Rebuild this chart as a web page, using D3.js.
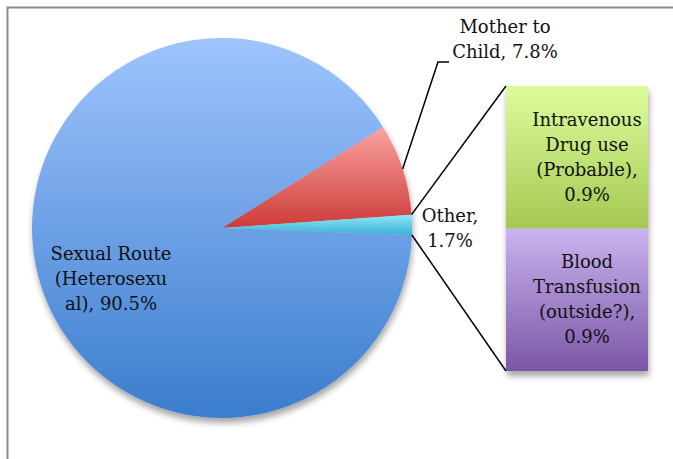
<!DOCTYPE html>
<html>
<head>
<meta charset="utf-8">
<script src="https://cdn.jsdelivr.net/npm/d3@7"></script>
<style>
  html, body { margin: 0; padding: 0; background: #fff; }
  svg { display: block; }
  text { font-family: "DejaVu Serif", serif; font-size: 18px; fill: #111; }
</style>
</head>
<body>
<div id="chart"></div>
<script>
// pie slices (clockwise, starting from Mother to Child)
const pieNames = ["Mother to Child", "Other", "Sexual Route (Heterosexual)"];
const pieValues = [7.8, 1.7, 90.5];
const pieLabels = [["Mother to", "Child, 7.8%"], ["Other,", "1.7%"], ["Sexual Route", "(Heterosexu", "al), 90.5%"]];

// bar breakdown of "Other" (top to bottom)
const barNames = ["Intravenous Drug use (Probable)", "Blood Transfusion (outside?)"];
const barValues = [0.9, 0.9];
const barLabels = [["Intravenous", "Drug use", "(Probable),", "0.9%"], ["Blood", "Transfusion", "(outside?),", "0.9%"]];

const width = 673, height = 459;
const cx = 222, cy = 228, r = 190;
const lineH = 25;

const svg = d3.select("#chart").append("svg")
    .attr("width", width)
    .attr("height", height);

const defs = svg.append("defs");
const grads = [
    {id: "gMother", top: "#faa3a2", bottom: "#cd3b38"},
    {id: "gOther", top: "#90e8f8", bottom: "#38b1d4"},
    {id: "gSexual", top: "#9ec4fd", bottom: "#3b7dcd"},
    {id: "gIv", top: "#ddfd9d", bottom: "#a4c852"},
    {id: "gBlood", top: "#cab3ee", bottom: "#7b57a6"}
];
grads.forEach(g => {
    const lg = defs.append("linearGradient").attr("id", g.id)
        .attr("x1", 0).attr("y1", 0).attr("x2", 0).attr("y2", 1);
    lg.append("stop").attr("offset", "0%").attr("stop-color", g.top);
    lg.append("stop").attr("offset", "100%").attr("stop-color", g.bottom);
});
defs.append("filter").attr("id", "shadow")
    .attr("x", "-10%").attr("y", "-10%").attr("width", "130%").attr("height", "130%")
    .append("feDropShadow")
    .attr("dx", 1).attr("dy", 5).attr("stdDeviation", 3)
    .attr("flood-color", "#000").attr("flood-opacity", 0.35);

// frame
svg.append("rect")
    .attr("x", 7.5).attr("y", 7.5)
    .attr("width", 700).attr("height", 500)
    .attr("fill", "none").attr("stroke", "#8a8a8a").attr("stroke-width", 2);

// pie
const deg = Math.PI / 180;
const pie = d3.pie().sort(null).value(d => d)
    .startAngle(57.9 * deg).endAngle(57.9 * deg + 2 * Math.PI);
const arcs = pie(pieValues);
const arc = d3.arc().innerRadius(0).outerRadius(r);
const pieFill = ["url(#gMother)", "url(#gOther)", "url(#gSexual)"];

const gPie = svg.append("g").attr("transform", `translate(${cx},${cy})`);
const gSlices = gPie.append("g").attr("filter", "url(#shadow)");
gSlices.selectAll("path").data(arcs).join("path")
    .attr("d", arc)
    .attr("fill", (d, i) => pieFill[i]);

const pt = (a, rad) => [cx + rad * Math.sin(a), cy - rad * Math.cos(a)];

// bar
const barX = d3.scaleBand().domain(["Other"]).range([506, 648]).padding(0);
const stackTotal = d3.sum(barValues);
const barY = d3.scaleLinear().domain([0, stackTotal]).range([86, 371]);
let acc = 0;
const segs = barValues.map((v, i) => { const s = {i, y0: acc, y1: acc + v}; acc += v; return s; });
const barFill = ["url(#gIv)", "url(#gBlood)"];

svg.append("g").attr("filter", "url(#shadow)")
    .selectAll("rect").data(segs).join("rect")
    .attr("x", barX("Other"))
    .attr("width", barX.bandwidth())
    .attr("y", d => barY(d.y0))
    .attr("height", d => barY(d.y1) - barY(d.y0))
    .attr("fill", d => barFill[d.i]);

// connector lines between "Other" slice and bar
const other = arcs[1];
const pTop = pt(other.startAngle, r), pBot = pt(other.endAngle, r);
svg.append("line")
    .attr("x1", pTop[0]).attr("y1", pTop[1])
    .attr("x2", barX("Other")).attr("y2", barY(0))
    .attr("stroke", "#000").attr("stroke-width", 1.5);
svg.append("line")
    .attr("x1", pBot[0]).attr("y1", pBot[1])
    .attr("x2", barX("Other")).attr("y2", barY(stackTotal))
    .attr("stroke", "#000").attr("stroke-width", 1.5);

// leader for Mother to Child
const mother = arcs[0];
const mMid = (mother.startAngle + mother.endAngle) / 2;
const mStart = pt(mMid, r);
svg.append("polyline")
    .attr("points", [mStart, [438, 62], [449, 62]].map(p => p.join(",")).join(" "))
    .attr("fill", "none").attr("stroke", "#000").attr("stroke-width", 1.5);

function multiline(x, y0, lines) {
    const t = svg.append("text").attr("text-anchor", "middle");
    lines.forEach((l, k) => t.append("tspan").attr("x", x).attr("y", y0 + k * lineH).text(l));
}

// pie labels
multiline(505, 33, pieLabels[0]);
multiline(450, 222, pieLabels[1]);
multiline(cx - 111, 260, pieLabels[2]);

// bar labels
const bxMid = barX("Other") + barX.bandwidth() / 2 + 10;
segs.forEach(s => {
    const mid = (barY(s.y0) + barY(s.y1)) / 2;
    const n = barLabels[s.i].length;
    multiline(bxMid, mid - (n - 1) * lineH / 2 + 6, barLabels[s.i]);
});
</script>
</body>
</html>
